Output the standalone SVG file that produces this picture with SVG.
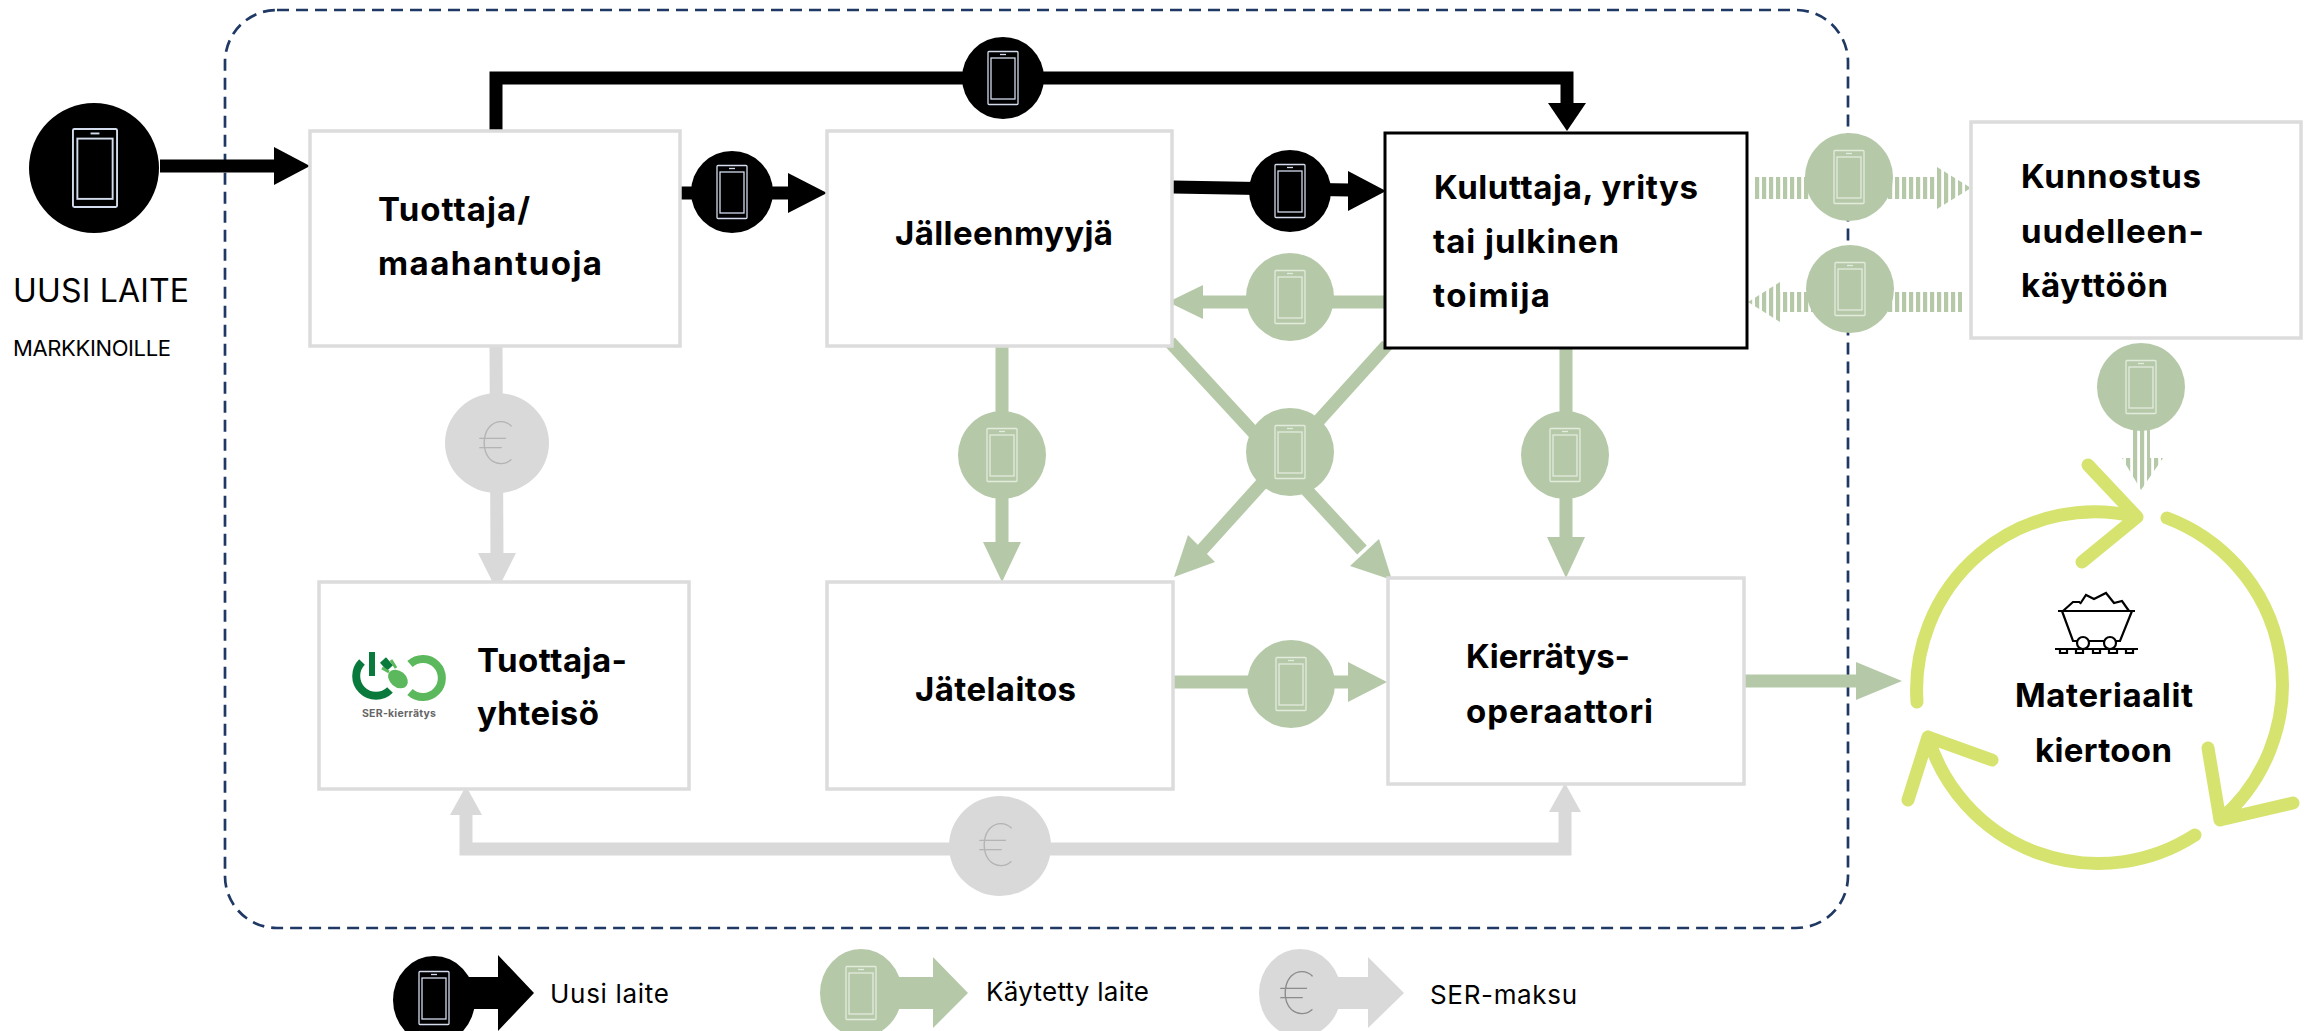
<svg xmlns="http://www.w3.org/2000/svg" width="2307" height="1031" viewBox="0 0 2307 1031">
<style>
text{font-family:Inter,"Noto Sans","Liberation Sans",sans-serif;fill:#000}
.b{font-weight:700;font-size:33px}
.box{fill:#fff;stroke:#dcdcdc;stroke-width:3.5}
.k{fill:none;stroke:#000;stroke-width:13}
.g{fill:none;stroke:#b5c9a8;stroke-width:13}
.y{fill:none;stroke:#d9d9d9;stroke-width:13}
.hk{fill:#000}.hg{fill:#b5c9a8}.hy{fill:#d9d9d9}
.c{fill:none;stroke:#d6e36f;stroke-width:13;stroke-linecap:round;stroke-linejoin:round}
.s{fill:url(#st)}
.e{font-size:58px;font-weight:100;fill:#b4b4b4;text-anchor:middle}
.cart{fill:none;stroke:#000;stroke-width:2.2}
</style>
<defs>
<pattern id="st" width="7" height="10" patternUnits="userSpaceOnUse" x="5"><rect width="4.2" height="10" fill="#b5c9a8"/></pattern>
<g id="ph"><rect x="-15" y="-26.5" width="30" height="53" rx="1" fill="none" stroke-width="1.3"/><rect x="-12" y="-20" width="24" height="41" fill="none" stroke-width="1.3"/><path d="M-3-23.5H3" stroke-width="1.3"/></g>
</defs>
<rect x="225" y="10" width="1623" height="918" rx="52" fill="none" stroke="#1f3864" stroke-width="2.7" stroke-dasharray="12 7"/>
<g id="connectors">
<path class="k" d="M160 166H280"/><path class="hk" d="M274 147L310 166L274 185Z"/>
<path class="k" d="M496 131V78H1567V105"/><path class="hk" d="M1548 103H1586L1567 131Z"/>
<path class="k" d="M680 193H795"/><path class="hk" d="M788 173L827 193L788 213Z"/>
<path class="k" d="M1173 187L1350 190"/><path class="hk" d="M1348 171L1386 191L1348 211Z"/>
<path class="g" d="M1386 302H1200"/><path class="hg" d="M1203 285L1168 302L1203 319Z"/>
<path class="g" d="M1002 346V550"/><path class="hg" d="M983 542H1021L1002 582Z"/>
<path class="g" d="M1566 349V545"/><path class="hg" d="M1547 537H1585L1566 578Z"/>
<path class="g" d="M1170 342L1362 550"/><path class="hg" d="M1350 566L1379 539L1392 580Z"/>
<path class="g" d="M1387 345L1200 552"/><path class="hg" d="M1188 535L1215 562L1174 577Z"/>
<path class="g" d="M1173 682H1350"/><path class="hg" d="M1348 662L1387 682L1348 702Z"/>
<path class="g" d="M1743 681H1860"/><path class="hg" d="M1856 662L1902 681L1856 700Z"/>
<path class="y" d="M496 346L497 560"/><path class="hy" d="M478 553H516L497 591Z"/>
<path class="y" d="M466 810V849H1565V810"/><path class="hy" d="M466 786L450 815H482Z"/><path class="hy" d="M1565 783L1549 812H1581Z"/>
<path class="s" d="M1753 177H1937V167L1971 188L1937 209V199H1753Z"/>
<path class="s" d="M1962 292H1780V282L1748 302L1780 322V312H1962Z"/>
<path class="s" d="M2133 430H2150V458H2133Z"/>
<path class="s" d="M2122 458H2163L2141 490Z"/>
</g>
<g id="n-uusi"><circle cx="94" cy="168" r="65" fill="#000"/><use href="#ph" transform="translate(95 168) scale(1.47)" stroke="#d3dced"/><text x="13" y="302" font-size="32" textLength="176">UUSI LAITE</text><text x="13" y="356" font-size="22" textLength="158">MARKKINOILLE</text></g>
<g id="n-tuottaja"><rect class="box" x="310" y="131" width="370" height="215"/><text class="b" x="378" y="221" textLength="152">Tuottaja/</text><text class="b" x="378" y="275" textLength="224">maahantuoja</text></g>
<g id="n-jalleen"><rect class="box" x="827" y="131" width="345" height="215"/><text class="b" x="895" y="245" textLength="218">Jälleenmyyjä</text></g>
<g id="n-kuluttaja"><rect x="1385" y="133" width="362" height="215" fill="#fff" stroke="#000" stroke-width="3"/><text class="b" x="1434" y="199" textLength="264">Kuluttaja, yritys</text><text class="b" x="1433" y="253" textLength="186">tai julkinen</text><text class="b" x="1433" y="307" textLength="117">toimija</text></g>
<g id="n-kunnostus"><rect class="box" x="1971" y="122" width="330" height="216"/><text class="b" x="2021" y="188" textLength="180">Kunnostus</text><text class="b" x="2021" y="243" textLength="183">uudelleen-</text><text class="b" x="2021" y="297" textLength="147">käyttöön</text></g>
<g id="n-ty"><rect class="box" x="319" y="582" width="370" height="207"/><g fill="none" stroke-width="8"><path d="M362 662A19 19 0 1 0 390 690" stroke="#0a7a3c"/><path d="M383 660L390 668" stroke="#0a7a3c"/><path d="M372 652V676" stroke="#0a7a3c" stroke-width="6"/><path d="M410 664A19 19 0 1 1 410 692" stroke="#5cb85c"/></g><ellipse cx="398" cy="679" rx="11" ry="8" transform="rotate(40 398 679)" fill="#5cb85c"/><path d="M389 672L382 668M396 668L391 660" stroke="#5cb85c" stroke-width="3"/><text x="362" y="717" font-size="10.5" font-weight="700" textLength="74" style="fill:#666">SER-kierrätys</text><text class="b" x="477" y="672" textLength="150">Tuottaja-</text><text class="b" x="477" y="725" textLength="122">yhteisö</text></g>
<g id="n-jate"><rect class="box" x="827" y="582" width="346" height="207"/><text class="b" x="915" y="701" textLength="161">Jätelaitos</text></g>
<g id="n-kierr"><rect class="box" x="1388" y="578" width="356" height="206"/><text class="b" x="1466" y="668" textLength="164">Kierrätys-</text><text class="b" x="1466" y="723" textLength="187">operaattori</text></g>
<g id="n-mat">
<path class="c" d="M1917 702A178 178 0 0 1 2137 517M2088 465L2137 517L2082 562"/>
<path class="c" d="M2167 518A178 178 0 0 1 2220 820M2208 748L2220 820L2293 803"/>
<path class="c" d="M2195 835A178 178 0 0 1 1928 737M1908 800L1928 737L1992 760"/>
<g class="cart"><path d="M2058 611H2135M2062 611L2073 641H2120L2132 611M2063 611L2073 602H2080M2080 604L2086 595L2094 599L2106 593L2114 603L2122 601L2129 611"/><circle cx="2083" cy="643" r="6" fill="#fff"/><circle cx="2110" cy="643" r="6" fill="#fff"/><path d="M2055 649H2138M2060 649v4h7v-4M2076 649v4h7v-4M2093 649v4h7v-4M2109 649v4h8v-4M2126 649v4h7v-4"/></g>
<text class="b" x="2015" y="707" textLength="178">Materiaalit</text><text class="b" x="2035" y="762" textLength="137">kiertoon</text></g>
<g id="tokens" fill="#b5c9a8">
<g fill="#000" stroke="#d3dced"><circle cx="1003" cy="78" r="41" stroke="none"/><use href="#ph" x="1003" y="78"/><circle cx="732" cy="192" r="41" stroke="none"/><use href="#ph" x="732" y="192"/><circle cx="1290" cy="191" r="41" stroke="none"/><use href="#ph" x="1290" y="191"/></g>
<g stroke="#e3ebdc"><circle cx="1290" cy="297" r="44" stroke="none"/><use href="#ph" x="1290" y="297"/><circle cx="1290" cy="452" r="44" stroke="none"/><use href="#ph" x="1290" y="452"/><circle cx="1002" cy="455" r="44" stroke="none"/><use href="#ph" x="1002" y="455"/><circle cx="1565" cy="455" r="44" stroke="none"/><use href="#ph" x="1565" y="455"/><circle cx="1291" cy="684" r="44" stroke="none"/><use href="#ph" x="1291" y="684"/><circle cx="1849" cy="177" r="44" stroke="none"/><use href="#ph" x="1849" y="177"/><circle cx="1850" cy="289" r="44" stroke="none"/><use href="#ph" x="1850" y="289"/><circle cx="2141" cy="387" r="44" stroke="none"/><use href="#ph" x="2141" y="387"/></g>
<ellipse cx="497" cy="443" rx="52" ry="50" fill="#d9d9d9"/><text class="e" x="497" y="464">€</text>
<ellipse cx="1000" cy="846" rx="51" ry="50" fill="#d9d9d9"/><text class="e" x="997" y="866">€</text>
</g>
<g id="legend">
<path class="hk" d="M440 977H498V955L534 993L498 1031V1009H440Z"/><ellipse cx="434" cy="1000" rx="41" ry="44" fill="#000"/><use href="#ph" x="434" y="998" stroke="#d3dced"/><text x="550" y="1003" font-size="26" textLength="119">Uusi laite</text>
<path class="hg" d="M860 977H933V957L968 993L933 1028V1009H860Z"/><ellipse cx="861" cy="993" rx="41" ry="44" fill="#b5c9a8"/><use href="#ph" x="861" y="993" stroke="#e3ebdc"/><text x="986" y="1001" font-size="26" textLength="163">Käytetty laite</text>
<path class="hy" d="M1300 977H1368V957L1404 993L1368 1028V1009H1300Z"/><ellipse cx="1300" cy="993" rx="41" ry="44" fill="#d9d9d9"/><text class="e" x="1298" y="1014" style="fill:#8c8c8c">€</text><text x="1430" y="1004" font-size="26" textLength="147">SER-maksu</text>
</g>
</svg>
